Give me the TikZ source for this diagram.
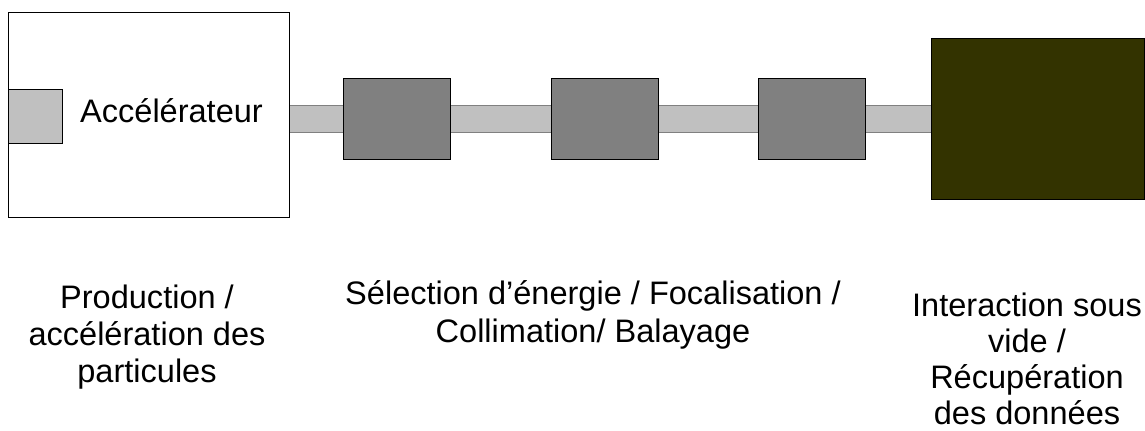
\documentclass[tikz,border=0pt]{standalone}
\usepackage{fontspec}
\setmainfont{Liberation Sans}
\usetikzlibrary{calc,backgrounds}
\definecolor{pipegrey}{HTML}{C0C0C0}
\definecolor{boxgrey}{HTML}{808080}
\definecolor{darkolive}{HTML}{333300}
\begin{document}
\begin{tikzpicture}[x=0.75pt, y=-0.75pt, line width=0.75pt, line join=miter,
	font=\fontsize{24.4}{28}\selectfont,
	box/.style={draw, inner sep=0pt, outer sep=0pt},
	lens/.style={box, fill=boxgrey, minimum width=80.25pt, minimum height=60.75pt},
	caption/.style={align=center, inner sep=0pt}]
	\useasboundingbox (0,0) rectangle (1145,430);
	\node[box, fill=white, minimum width=210.75pt, minimum height=153.75pt] (accel) at (148.5,114.5) {};
	\node[box, fill=pipegrey, minimum size=40.5pt] (source) at (35,116) {};
	\node[inner sep=0pt, anchor=base] (accellbl) at (171.5,122) {Accélérateur};
	\node[lens] (g1) at (396.5,118.5) {};
	\node[lens] (g2) at (605,118.5) {};
	\node[lens] (g3) at (811.5,118.5) {};
	\node[box, fill=darkolive, minimum width=159.75pt, minimum height=120.75pt] (target) at (1037.5,118.5) {};
	\begin{scope}[on background layer]
		\fill[pipegrey] ($(accel.east |- g1.center)+(0,-13.5)$) rectangle ($(target.west)+(0,13.5)$);
		\draw[boxgrey] ($(accel.east |- g1.center)+(0,-13.5)$) -- ($(target.west)+(0,-13.5)$)
		($(accel.east |- g1.center)+(0,13.5)$) -- ($(target.west)+(0,13.5)$);
	\end{scope}
	\node[caption] (prodlbl) at (147,337) {Production /\\accélération des\\particules};
	\node[caption] (beamlbl) at (593,315) {Sélection d’énergie / Focalisation /\\Collimation/ Balayage};
	\node[caption, font=\fontsize{24.4}{27}\selectfont] (targetlbl) at (1027,359) {Interaction sous\\vide /\\Récupération\\des données};
\end{tikzpicture}
\end{document}
